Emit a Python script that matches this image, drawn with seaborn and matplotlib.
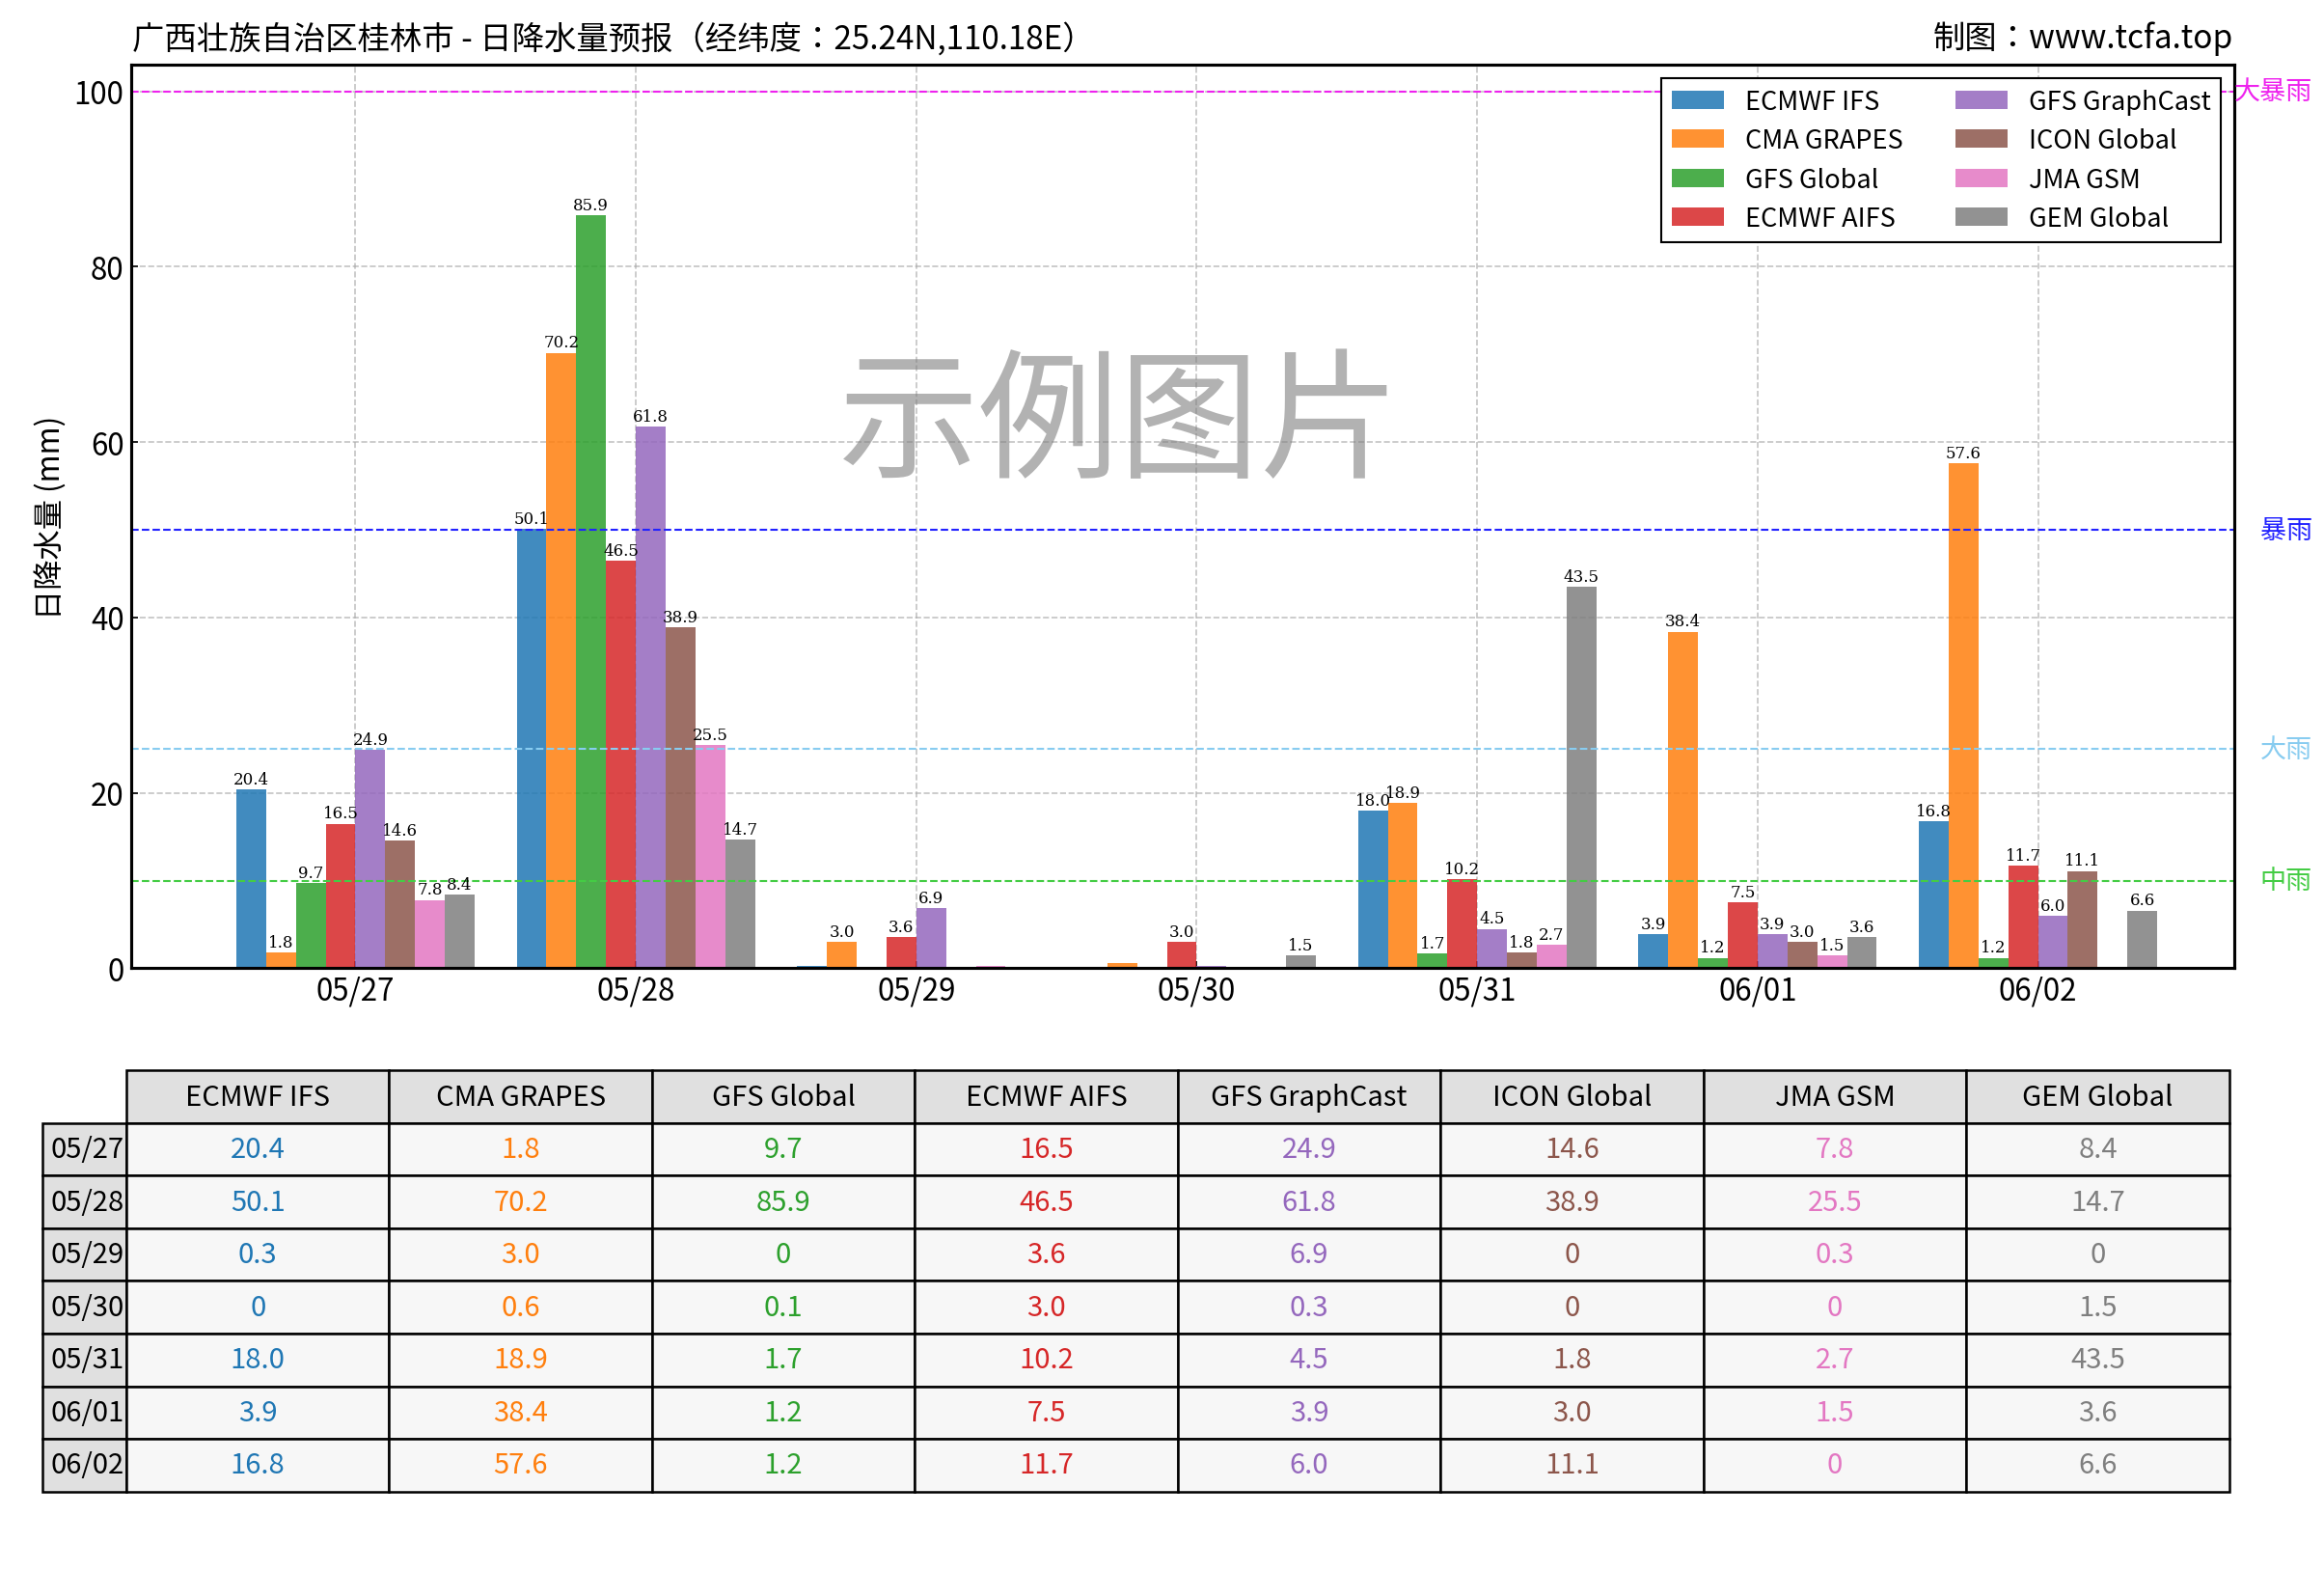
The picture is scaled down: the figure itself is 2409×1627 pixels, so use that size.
import matplotlib
matplotlib.use("Agg")
import matplotlib.pyplot as plt
from matplotlib import font_manager as fm
import seaborn as sns
import pandas as pd
import numpy as np

cjk = [f for f in fm.findSystemFonts() if "CJK" in f or "cjk" in f.lower()]
cjk_name = None
for f in sorted(cjk, key=lambda p: ("SC" not in p, "Regular" not in p)):
    try:
        fm.fontManager.addfont(f)
        cjk_name = fm.FontProperties(fname=f).get_name()
        break
    except Exception:
        pass
fams = [n for n in [cjk_name, "Noto Sans CJK SC", "Noto Sans CJK JP"] if n] + ["DejaVu Sans"]
plt.rcParams["font.family"] = "sans-serif"
plt.rcParams["font.sans-serif"] = fams

dates = ["05/27", "05/28", "05/29", "05/30", "05/31", "06/01", "06/02"]
models = ["ECMWF IFS", "CMA GRAPES", "GFS Global", "ECMWF AIFS",
          "GFS GraphCast", "ICON Global", "JMA GSM", "GEM Global"]
ecmwf_ifs = [20.4, 50.1, 0.3, 0, 18.0, 3.9, 16.8]
cma_grapes = [1.8, 70.2, 3.0, 0.6, 18.9, 38.4, 57.6]
gfs_global = [9.7, 85.9, 0, 0.1, 1.7, 1.2, 1.2]
ecmwf_aifs = [16.5, 46.5, 3.6, 3.0, 10.2, 7.5, 11.7]
gfs_graphcast = [24.9, 61.8, 6.9, 0.3, 4.5, 3.9, 6.0]
icon_global = [14.6, 38.9, 0, 0, 1.8, 3.0, 11.1]
jma_gsm = [7.8, 25.5, 0.3, 0, 2.7, 1.5, 0]
gem_global = [8.4, 14.7, 0, 1.5, 43.5, 3.6, 6.6]
series = [ecmwf_ifs, cma_grapes, gfs_global, ecmwf_aifs,
          gfs_graphcast, icon_global, jma_gsm, gem_global]
thresholds = [(100, "大暴雨", "#ee22ee"), (50, "暴雨", "#2222ff"),
              (25, "大雨", "#88ccf0"), (10, "中雨", "#44cc44")]

colors = sns.color_palette("tab10", 8)
rows = []
for m, vals in zip(models, series):
    for d, v in zip(dates, vals):
        rows.append({"date": d, "model": m, "value": v})
df = pd.DataFrame(rows)

fig = plt.figure(figsize=(16.06, 10.853), dpi=150)
ax = fig.add_axes([0.0564, 0.383, 0.905, 0.575])
sns.barplot(data=df, x="date", y="value", hue="model", palette=colors,
            alpha=0.85, width=0.85, ax=ax, saturation=1, legend=True)
for cont in ax.containers:
    labels = [f"{v:.1f}" if v >= 1 else "" for v in cont.datavalues]
    ax.bar_label(cont, labels=labels, fontsize=8, padding=1, family="serif")
for y, name, c in thresholds:
    ax.axhline(y, color=c, ls="--", lw=1)
    ax.text(0.995, y, name, transform=matplotlib.transforms.blended_transform_factory(fig.transFigure, ax.transData),
            color=c, fontsize=13, va="center", ha="right")
ax.set_ylim(0, 103)
ax.set_xlim(-0.8, 6.7)
ax.grid(True, ls="--", color="#aaaaaa", alpha=0.7)
ax.set_axisbelow(True)
ax.set_xlabel("")
ax.set_ylabel("日降水量 (mm)", fontsize=15)
ax.tick_params(labelsize=15, direction="in")
for s in ax.spines.values():
    s.set_linewidth(1.5)
ax.legend(ncol=2, loc="upper right", fontsize=13, frameon=True,
          edgecolor="black", fancybox=False, framealpha=1)
ax.text(0.47, 0.6, "示例图片", transform=ax.transAxes, fontsize=70,
        color="gray", alpha=0.6, ha="center", va="center")
fig.text(0.057, 0.975, "广西壮族自治区桂林市 - 日降水量预报（经纬度：25.24N,110.18E）",
         fontsize=16, va="center")
fig.text(0.961, 0.975, "制图：www.tcfa.top", fontsize=16, ha="right", va="center")

tax = fig.add_axes([0.0115, 0.05, 0.9495, 0.268])
tax.axis("off")
cell = [[f"{s[i]:g}" if s[i] == 0 else f"{s[i]:.1f}" for s in series] for i in range(len(dates))]
tbl = tax.table(cellText=cell, rowLabels=dates, colLabels=models,
                loc="center", cellLoc="center", bbox=[0.047, 0, 0.953, 1])
tbl.auto_set_font_size(False)
tbl.set_fontsize(14)
for (r, c), cl in tbl.get_celld().items():
    cl.set_linewidth(1.2)
    if r == 0:
        cl.set_facecolor("#e0e0e0")
    elif c == -1:
        cl.set_facecolor("#e0e0e0")
    else:
        cl.set_facecolor("#f7f7f7")
        cl.get_text().set_color(colors[c])
fig.savefig("out.png", dpi=150)
